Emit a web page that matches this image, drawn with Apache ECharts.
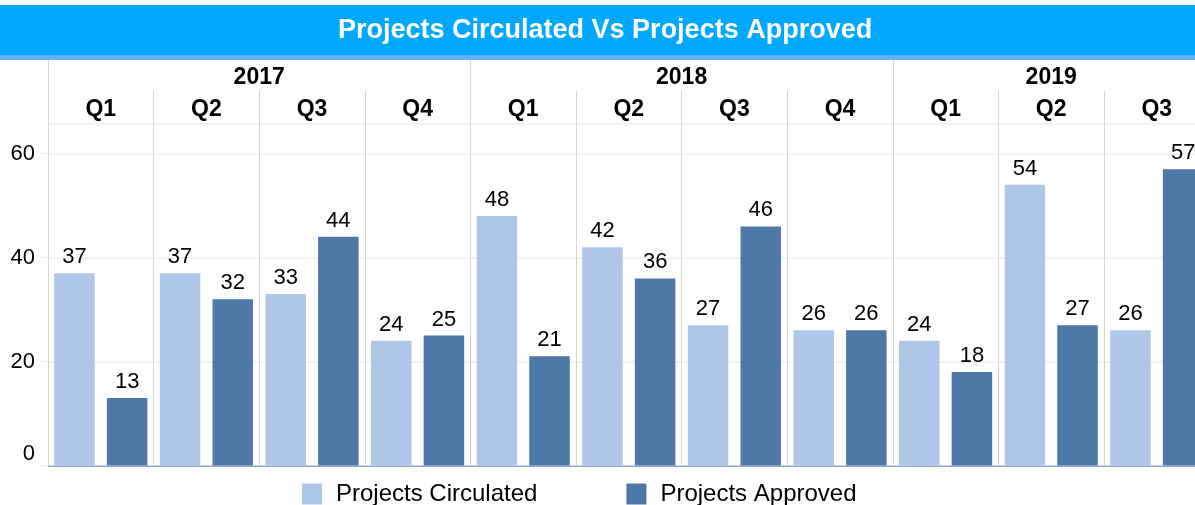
<!DOCTYPE html>
<html>
<head>
<meta charset="utf-8">
<script src="https://cdn.jsdelivr.net/npm/echarts@6/dist/echarts.min.js"></script>
<style>
  html, body { margin: 0; padding: 0; background: #fff; }
  #chart { width: 1195px; height: 505px; }
</style>
</head>
<body>
<div id="chart"></div>
<script>
const years = ['2017', '2018', '2019'];
const quarters = [
  ['Q1', 'Q2', 'Q3', 'Q4'],
  ['Q1', 'Q2', 'Q3', 'Q4'],
  ['Q1', 'Q2', 'Q3']
];
const circulated = [37, 37, 33, 24, 48, 42, 27, 26, 24, 54, 26];
const approved = [13, 32, 44, 25, 21, 36, 46, 26, 18, 27, 57];
const yTicks = [0, 20, 40, 60];

const font = 'Liberation Sans, Arial, sans-serif';

// one category per quarter, keyed by year so the names stay unique
const categories = [];
years.forEach((y, i) => quarters[i].forEach(q => categories.push(y + ' ' + q)));

// year spans along the quarter axis: edges and centres
const yearEdges = [0];
quarters.forEach(qs => yearEdges.push(yearEdges[yearEdges.length - 1] + qs.length));
const yearCentres = years.map((y, i) => (yearEdges[i] + yearEdges[i + 1]) / 2);
const quarterEdges = categories.map((c, i) => i).concat(categories.length);

const chart = echarts.init(document.getElementById('chart'), null, { renderer: 'canvas' });

const option = {
  animation: false,
  textStyle: { fontFamily: font },
  graphic: [
    { type: 'rect', left: 0, top: 5, shape: { width: 1195, height: 50 }, style: { fill: '#00a9ff' }, z: -1 },
    { type: 'rect', left: 0, top: 55, shape: { width: 1195, height: 5 }, style: { fill: '#62b0ff' }, z: -1 }
  ],
  title: {
    text: 'Projects Circulated Vs Projects Approved',
    left: 338,
    top: 17,
    padding: 0,
    textStyle: { color: '#fff', fontSize: 27, fontWeight: 'bold', fontFamily: font }
  },
  legend: {
    left: 302,
    top: 482,
    padding: 0,
    itemWidth: 20,
    itemHeight: 21,
    itemGap: 89,
    icon: 'rect',
    textStyle: { fontSize: 24, color: '#000', padding: [0, 0, 0, 9], fontFamily: font },
    data: ['Projects Circulated', 'Projects Approved']
  },
  // the plot runs past the right edge of the page, cutting 2019 Q3 in half
  grid: { left: 48, width: 1161.6, top: 124, bottom: 39.5, containLabel: false, outerBoundsMode: 'none' },
  xAxis: [
    {
      type: 'category',
      position: 'top',
      data: categories,
      axisLine: { show: true, lineStyle: { color: '#d3d3d3' } },
      axisTick: { show: false },
      axisLabel: {
        interval: 0,
        margin: 3,
        color: '#000',
        fontSize: 23,
        fontWeight: 'bold',
        fontFamily: font,
        formatter: v => v.split(' ')[1]
      },
      splitLine: { show: true, interval: 0, lineStyle: { color: '#d3d3d3' } }
    },
    {
      type: 'category',
      position: 'bottom',
      offset: 1,
      data: categories,
      axisLine: { show: true, lineStyle: { color: '#7ea6dc' } },
      axisTick: { show: false },
      axisLabel: { show: false }
    },
    {
      // year row: separators from the top of the header down to the plot
      type: 'value',
      position: 'top',
      offset: 64,
      min: 0,
      max: categories.length,
      axisLine: { show: false },
      axisTick: { show: true, inside: true, length: 64, customValues: yearEdges, lineStyle: { color: '#d3d3d3' } },
      axisLabel: {
        show: true,
        inside: true,
        margin: 6,
        customValues: yearCentres,
        color: '#000',
        fontSize: 23,
        fontWeight: 'bold',
        fontFamily: font,
        formatter: v => years[yearCentres.indexOf(v)] || ''
      },
      splitLine: { show: false }
    },
    {
      // quarter row separators
      type: 'value',
      position: 'top',
      offset: 33,
      min: 0,
      max: categories.length,
      axisLine: { show: false },
      axisTick: { show: true, inside: true, length: 33, customValues: quarterEdges, lineStyle: { color: '#d3d3d3' } },
      axisLabel: { show: false },
      splitLine: { show: false }
    }
  ],
  yAxis: {
    type: 'value',
    min: 0,
    max: 65.7,
    interval: 20,
    axisLine: { show: true, lineStyle: { color: '#d3d3d3' } },
    axisTick: { show: true, length: 8, lineStyle: { color: '#eeeeee' } },
    axisLabel: {
      margin: 13,
      color: '#000',
      fontSize: 22,
      fontFamily: font,
      showMaxLabel: false,
      formatter: v => (v === yTicks[0] ? '{low|' + v + '}' : (yTicks.indexOf(v) >= 0 ? String(v) : '')),
      rich: { low: { fontSize: 22, color: '#000', fontFamily: font, padding: [0, 0, 24, 0] } }
    },
    splitLine: { show: true, lineStyle: { color: '#eeeeee', width: 1.5 } }
  },
  series: [
    {
      name: 'Projects Circulated',
      type: 'bar',
      xAxisIndex: 0,
      data: circulated,
      barWidth: 40.5,
      barGap: '30%',
      itemStyle: { color: '#aec7e8' },
      label: { show: true, position: 'top', distance: 5, color: '#000', fontSize: 22, fontFamily: font }
    },
    {
      name: 'Projects Approved',
      type: 'bar',
      xAxisIndex: 0,
      data: approved,
      barWidth: 40.5,
      barGap: '30%',
      itemStyle: { color: '#4e79a7' },
      label: { show: true, position: 'top', distance: 5, color: '#000', fontSize: 22, fontFamily: font }
    }
  ]
};

chart.setOption(option);
</script>
</body>
</html>
